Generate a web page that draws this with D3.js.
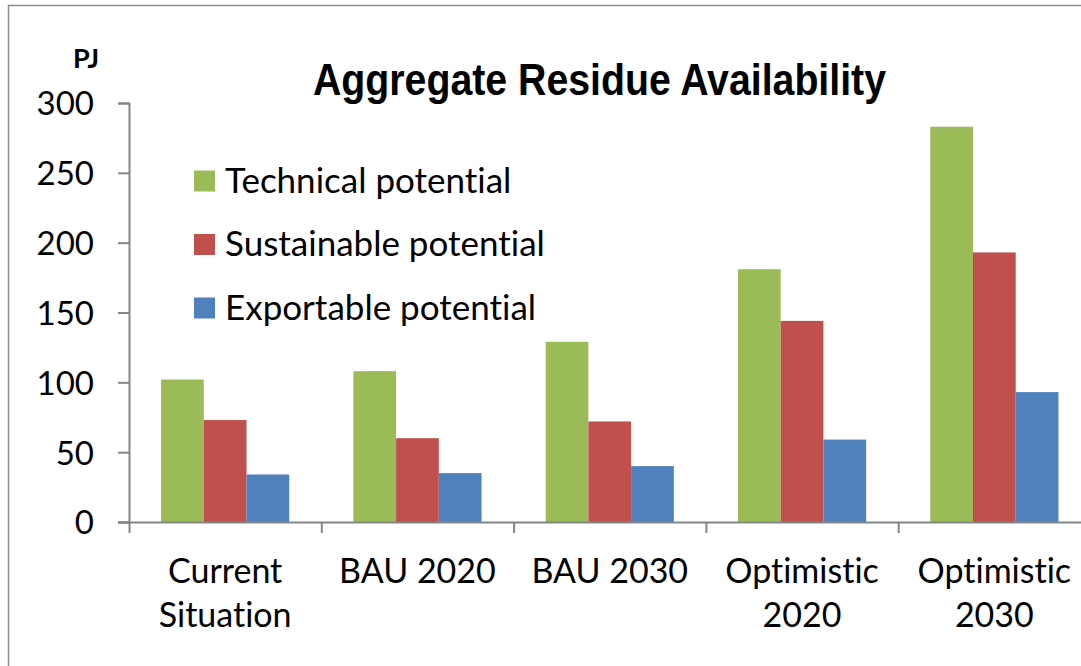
<!DOCTYPE html>
<html>
<head>
<meta charset="utf-8">
<script src="https://cdn.jsdelivr.net/npm/d3@7"></script>
<style>
  body { margin: 0; background: #fff; }
  svg { display: block; }
  text { font-family: Lato, "Open Sans", sans-serif; fill: #000; font-variant-ligatures: none; }
</style>
</head>
<body>
<svg id="chart" width="1081" height="666"></svg>
<script>
// categories along the x axis (two lines each)
var categories = ['Current Situation', 'BAU 2020', 'BAU 2030', 'Optimistic 2020', 'Optimistic 2030'];
var categoryLines = [['Current', 'Situation'], ['BAU 2020'], ['BAU 2030'], ['Optimistic', '2020'], ['Optimistic', '2030']];

var series = ['Technical potential', 'Sustainable potential', 'Exportable potential'];
var colors = ['#9bbb59', '#c0504d', '#4f81bd'];

// values in PJ
var technical = [102, 108, 129, 181, 283];
var sustainable = [73, 60, 72, 144, 193];
var exportable = [34, 35, 40, 59, 93];

var yTicks = [0, 50, 100, 150, 200, 250, 300];

var svg = d3.select('#chart');

// chart frame
svg.append('rect')
  .attr('x', 8.5).attr('y', 5.5)
  .attr('width', 1100).attr('height', 700)
  .attr('fill', 'none').attr('stroke', '#8c8c8c').attr('stroke-width', 1.5);

var plotLeft = 129, plotTop = 103, plotBottom = 522, plotRight = 1090.5;

var x0 = d3.scaleBand().domain(categories).range([plotLeft, plotRight]);
var bw = x0.bandwidth();
var x1 = d3.scaleBand().domain(series).range([bw / 6, bw * 5 / 6]);
var y = d3.scaleLinear().domain([0, 300]).range([plotBottom, plotTop]);

var rows = categories.map(function(c, i) {
  return [technical[i], sustainable[i], exportable[i]].map(function(v, j) {
    return { cat: c, s: series[j], v: v, c: colors[j] };
  });
});

// bars
svg.append('g').selectAll('g')
  .data(rows)
  .enter().append('g')
  .selectAll('rect')
  .data(function(d) { return d; })
  .enter().append('rect')
  .attr('x', function(d) { return x0(d.cat) + x1(d.s); })
  .attr('y', function(d) { return y(d.v); })
  .attr('width', x1.bandwidth())
  .attr('height', function(d) { return plotBottom - y(d.v); })
  .attr('fill', function(d) { return d.c; });

// y axis
var yAxis = svg.append('g')
  .attr('transform', 'translate(' + plotLeft + ',0)')
  .call(d3.axisLeft(y).tickValues(yTicks).tickSize(11).tickPadding(24));
yAxis.selectAll('text').style('font-size', '33px').attr('dy', '0.36em');

// x axis
var xAxis = svg.append('g')
  .attr('transform', 'translate(0,' + plotBottom + ')')
  .call(d3.axisBottom(d3.scaleLinear().domain([0, 5]).range([plotLeft, plotRight]))
    .tickValues([0, 1, 2, 3, 4, 5]).tickSize(11).tickFormat(''));
xAxis.select('.domain').attr('d', 'M' + (plotLeft - 11) + ',0.5H' + 1081);

svg.selectAll('.domain, .tick line').attr('stroke', '#868686').attr('stroke-width', 2);
svg.selectAll('.tick text').style('fill', '#000');

// category labels
var catLabels = svg.append('g').selectAll('text')
  .data(categories)
  .enter().append('text')
  .attr('text-anchor', 'middle')
  .attr('x', function(d) { return x0(d) + bw / 2; })
  .attr('y', 583)
  .style('font-size', '34px');
catLabels.selectAll('tspan')
  .data(function(d, i) { return categoryLines[i]; })
  .enter().append('tspan')
  .attr('x', function() { return d3.select(this.parentNode).attr('x'); })
  .attr('dy', function(d, i) { return i === 0 ? 0 : 44; })
  .text(function(d) { return d; });

// unit label
svg.append('text')
  .attr('x', 73).attr('y', 68)
  .style('font-size', '27px').style('font-weight', 'bold')
  .text('PJ');

// title
svg.append('text')
  .attr('x', 313).attr('y', 95)
  .attr('textLength', 573).attr('lengthAdjust', 'spacingAndGlyphs')
  .style('font-family', '"Liberation Sans Narrow", "Liberation Sans", Arial, sans-serif')
  .style('font-size', '44px').style('font-weight', 'bold')
  .text('Aggregate Residue Availability');

// legend
var legend = svg.append('g').selectAll('g')
  .data(series)
  .enter().append('g')
  .attr('transform', function(d, i) { return 'translate(194,' + (181 + i * 63.5) + ')'; });
legend.append('rect')
  .attr('x', 0).attr('y', -10.5).attr('width', 21).attr('height', 21)
  .attr('fill', function(d, i) { return colors[i]; });
legend.append('text')
  .attr('x', 31).attr('y', 11.5)
  .style('font-size', '35px')
  .text(function(d) { return d; });
</script>
</body>
</html>
